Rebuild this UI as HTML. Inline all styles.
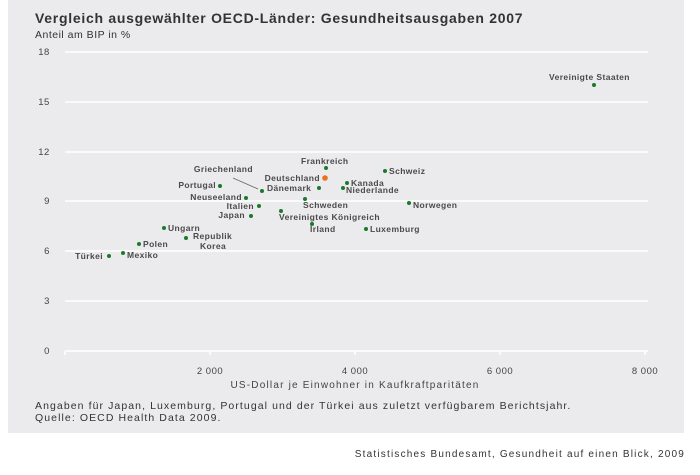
<!DOCTYPE html>
<html><head><meta charset="utf-8"><style>
body{margin:0;background:#fff;}
svg{display:block;font-family:"Liberation Sans",sans-serif;}
.l{font-size:8.5px;font-weight:bold;fill:#4a4a4a;letter-spacing:0.4px;}
.t{font-size:9.5px;fill:#444;letter-spacing:0.5px;}
</style></head><body>
<svg width="700" height="475" viewBox="0 0 700 475">
<rect x="8" y="0" width="676" height="433" fill="#ebebed"/>
<text x="35" y="23" font-size="14" font-weight="bold" fill="#333" letter-spacing="0.72">Vergleich ausgewählter OECD-Länder: Gesundheitsausgaben 2007</text>
<text x="35" y="38" font-size="10.5" fill="#333" letter-spacing="0.5">Anteil am BIP in %</text>
<g stroke="#fff" stroke-width="1.5">
<line x1="65" y1="52" x2="648" y2="52"/>
<line x1="65" y1="102" x2="648" y2="102"/>
<line x1="65" y1="152" x2="648" y2="152"/>
<line x1="65" y1="201" x2="648" y2="201"/>
<line x1="65" y1="251" x2="648" y2="251"/>
<line x1="65" y1="301" x2="648" y2="301"/>
<line x1="65" y1="351" x2="648" y2="351"/>
<line x1="65" y1="351" x2="65" y2="355"/>
<line x1="210" y1="351" x2="210" y2="355"/>
<line x1="355" y1="351" x2="355" y2="355"/>
<line x1="500" y1="351" x2="500" y2="355"/>
<line x1="645" y1="351" x2="645" y2="355"/>
</g>
<g class="t" text-anchor="middle">
<text x="44" y="55">18</text><text x="44" y="105">15</text><text x="44" y="155">12</text>
<text x="47" y="204">9</text><text x="47" y="254">6</text><text x="47" y="304">3</text><text x="47" y="354">0</text>
<text x="210" y="374">2 000</text><text x="355" y="374">4 000</text><text x="500" y="374">6 000</text><text x="645" y="374">8 000</text>
<text x="355" y="388" font-size="10" letter-spacing="1.2">US-Dollar je Einwohner in Kaufkraftparitäten</text>
</g>
<text x="35" y="409" fill="#333" font-size="10.5" letter-spacing="1.08">Angaben für Japan, Luxemburg, Portugal und der Türkei  aus  zuletzt verfügbarem Berichtsjahr.</text>
<text x="35" y="421" fill="#333" font-size="10.5" letter-spacing="1.08">Quelle: OECD Health Data 2009.</text>
<text x="685" y="457" text-anchor="end" font-size="10" fill="#333" letter-spacing="1.2">Statistisches Bundesamt, Gesundheit auf einen Blick, 2009</text>
<line x1="233" y1="178" x2="258" y2="189" stroke="#666" stroke-width="0.8"/>
<g fill="#1a7a2a">
<circle cx="594" cy="85" r="2"/><circle cx="326" cy="168" r="2"/><circle cx="385" cy="171" r="2"/>
<circle cx="347" cy="183" r="2"/><circle cx="343" cy="188" r="2"/><circle cx="319" cy="188" r="2"/>
<circle cx="262" cy="191" r="2"/><circle cx="220" cy="186" r="2"/><circle cx="246" cy="198" r="2"/>
<circle cx="259" cy="206" r="2"/><circle cx="251" cy="216" r="2"/><circle cx="305" cy="199" r="2"/>
<circle cx="281" cy="211" r="2"/><circle cx="409" cy="203" r="2"/><circle cx="312" cy="224" r="2"/>
<circle cx="366" cy="229" r="2"/><circle cx="164" cy="228" r="2"/><circle cx="186" cy="238" r="2"/>
<circle cx="139" cy="244" r="2"/><circle cx="109" cy="256" r="2"/><circle cx="123" cy="253" r="2"/>
</g>
<circle cx="325" cy="178" r="2.8" fill="#e8731a"/>
<g class="l">
<text x="549" y="80">Vereinigte Staaten</text>
<text x="301" y="164">Frankreich</text>
<text x="320" y="181" text-anchor="end">Deutschland</text>
<text x="389" y="174">Schweiz</text>
<text x="351" y="186">Kanada</text>
<text x="346" y="193">Niederlande</text>
<text x="267" y="191">Dänemark</text>
<text x="253" y="172" text-anchor="end">Griechenland</text>
<text x="216" y="188" text-anchor="end">Portugal</text>
<text x="242" y="200" text-anchor="end">Neuseeland</text>
<text x="254" y="209" text-anchor="end">Italien</text>
<text x="245" y="218" text-anchor="end">Japan</text>
<text x="303" y="208">Schweden</text>
<text x="279" y="220">Vereinigtes Königreich</text>
<text x="413" y="208">Norwegen</text>
<text x="310" y="232">Irland</text>
<text x="370" y="232">Luxemburg</text>
<text x="168" y="231">Ungarn</text>
<text x="193" y="239">Republik</text>
<text x="200" y="249">Korea</text>
<text x="143" y="247">Polen</text>
<text x="103" y="259" text-anchor="end">Türkei</text>
<text x="127" y="258">Mexiko</text>
</g>
</svg>
</body></html>
